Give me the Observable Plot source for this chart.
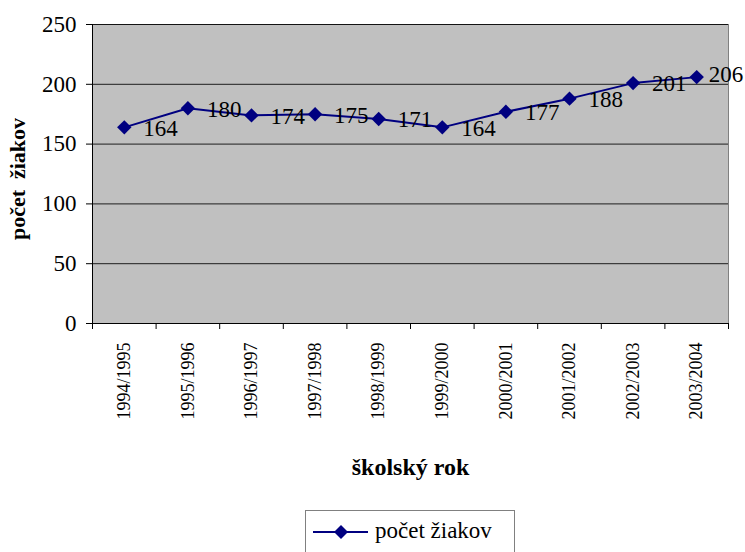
<!DOCTYPE html>
<html>
<head>
<meta charset="utf-8">
<script src="https://cdn.jsdelivr.net/npm/d3@7"></script>
<script src="https://cdn.jsdelivr.net/npm/@observablehq/plot@0.6"></script>
<style>
  html, body { margin: 0; padding: 0; background: #fff; overflow: hidden; }
  #wrap { position: relative; width: 745px; height: 552px; overflow: hidden; }
  #legend {
    position: absolute; left: 305px; top: 510px; width: 210px; height: 50px;
    box-sizing: border-box; border: 1px solid #808080; background: #fff;
  }
  #legend text, #chart svg text { font-family: 'Liberation Serif', 'Times New Roman', serif; }
</style>
</head>
<body>
<div id="wrap">
  <div id="chart"></div>
  <div id="legend"><svg width="208" height="48" style="position:absolute;left:0;top:0">
    <line x1="7" x2="62" y1="21" y2="21" stroke="#000080" stroke-width="2"/>
    <path d="M35,14 L42,21 L35,28 L28,21 Z" fill="#000080"/>
    <text x="69" y="27" font-size="23">počet žiakov</text>
  </svg></div>
</div>
<script>
const categories = ["1994/1995","1995/1996","1996/1997","1997/1998","1998/1999","1999/2000","2000/2001","2001/2002","2002/2003","2003/2004"];
const values = [164, 180, 174, 175, 171, 164, 177, 188, 201, 206];
const yTicks = [0, 50, 100, 150, 200, 250];
const seriesName = "počet žiakov";
const xTitle = "školský rok";
const yTitle = "počet\u00a0 žiakov";

const serif = "'Liberation Serif', 'Times New Roman', serif";
const data = categories.map((c, i) => ({cat: c, i: i + 0.5, v: values[i]}));
const lastIdx = data.length - 1;
const boundaries = d3.range(categories.length + 1);

const chart = Plot.plot({
  width: 745,
  height: 500,
  marginLeft: 92,
  marginRight: 17,
  marginTop: 24,
  marginBottom: 177,
  x: {type: "linear", domain: [0, categories.length], axis: null},
  y: {type: "linear", domain: [0, 250], axis: null},
  style: {fontFamily: serif, background: "#fff", overflow: "visible"},
  marks: [
    Plot.frame({fill: "#c0c0c0", stroke: "#808080"}),
    Plot.gridY(yTicks.filter(t => t > 0), {stroke: "#000", strokeOpacity: 0.85}),
    Plot.ruleX([0], {stroke: "#000"}),
    Plot.ruleY([0], {stroke: "#000"}),
    Plot.axisY({ticks: yTicks, tickSize: 6, tickPadding: 10, fontSize: 23, fontFamily: serif, stroke: "#000", fill: "#000", label: null}),
    Plot.axisX({ticks: boundaries, tickFormat: () => "", tickSize: 6, stroke: "#000", label: null}),
    Plot.text(data, {x: "i", y: 0, text: "cat", rotate: -90, textAnchor: "end", dy: 19,
      fontFamily: serif, fontSize: 18, fill: "#000"}),
    Plot.line(data, {x: "i", y: "v", stroke: "#000080", strokeWidth: 2}),
    Plot.dot(data, {x: "i", y: "v", symbol: "diamond2", r: 6.5, fill: "#000080", stroke: "none"}),
    Plot.text(data.slice(0, lastIdx), {x: "i", y: "v", text: d => String(d.v), textAnchor: "start", dx: 19, dy: 1,
      fontFamily: serif, fontSize: 23, fill: "#000"}),
    Plot.text(data.slice(lastIdx), {x: "i", y: "v", text: d => String(d.v), textAnchor: "start", dx: 12, dy: -2,
      fontFamily: serif, fontSize: 23, fill: "#000"}),
    Plot.text([yTitle], {frameAnchor: "left", dx: -75, dy: 5, rotate: -90, textAnchor: "middle", lineAnchor: "middle",
      fontFamily: serif, fontWeight: "bold", fontSize: 22, fill: "#000"}),
    Plot.text([xTitle], {frameAnchor: "bottom", dy: 144, textAnchor: "middle", lineAnchor: "middle",
      fontFamily: serif, fontWeight: "bold", fontSize: 24, fill: "#000"})
  ]
});
document.getElementById("chart").appendChild(chart);
</script>
</body>
</html>
